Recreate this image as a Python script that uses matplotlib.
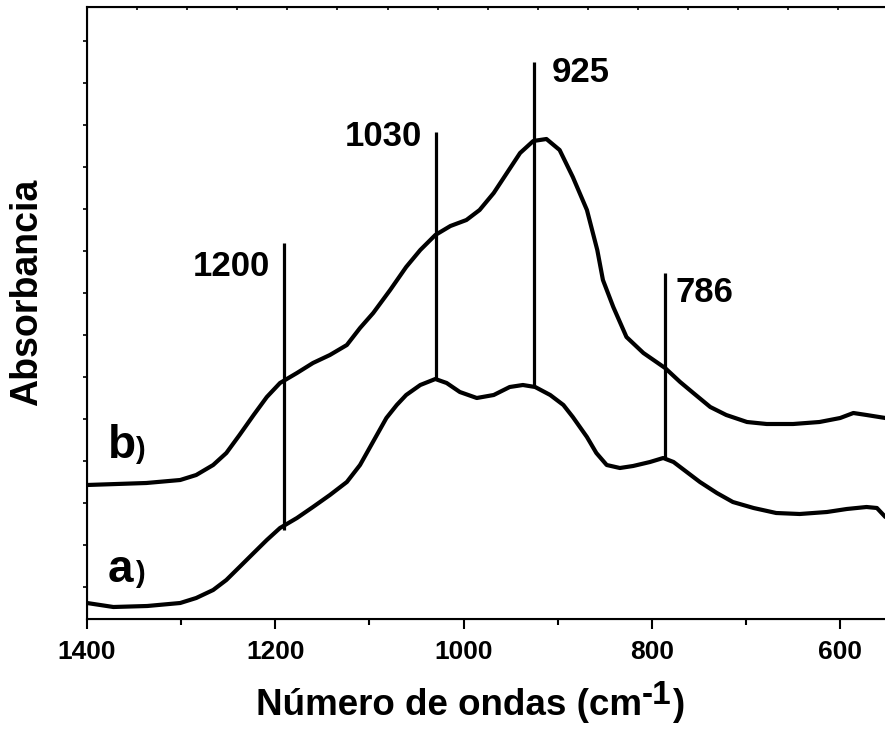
import numpy as np
import matplotlib
matplotlib.use("Agg")
import matplotlib.pyplot as plt

plt.rcParams['font.family'] = ['Liberation Sans', 'DejaVu Sans']
plt.rcParams['font.weight'] = 'bold'

# spectra (wavenumber, absorbance in arbitrary units)
wn_a = [1400, 1372, 1336, 1301, 1284, 1266, 1252, 1238, 1223, 1209, 1195, 1177,
        1160, 1142, 1124, 1110, 1082, 1071, 1061, 1046, 1030, 1018, 1004, 986,
        968, 951, 937, 924, 908, 894, 884, 869, 859, 848, 834, 820, 802, 788,
        777, 763, 749, 731, 714, 692, 668, 643, 614, 593, 572, 561, 552]
abs_a = [16, 12, 13, 16, 21, 29, 39, 52, 66, 79, 91, 101,
         112, 124, 137, 154, 201, 214, 224, 234, 240, 236, 227, 221,
         224, 232, 234, 232, 224, 214, 202, 182, 166, 154, 151, 153, 157, 161,
         157, 147, 137, 126, 117, 111, 106, 105, 107, 110, 112, 111, 102]

wn_b = [1400, 1337, 1301, 1284, 1266, 1252, 1238, 1223, 1209, 1195, 1177, 1160,
        1142, 1124, 1110, 1096, 1078, 1061, 1046, 1030, 1014, 997, 983, 968,
        954, 940, 926, 912, 898, 884, 869, 858, 852, 841, 827, 809, 786, 770,
        756, 738, 721, 699, 678, 650, 622, 600, 586, 572, 552]
abs_b = [134, 136, 139, 144, 154, 166, 184, 204, 222, 236, 246, 256,
         264, 274, 291, 306, 329, 352, 369, 384, 393, 399, 409, 426,
         446, 466, 478, 480, 469, 442, 409, 369, 339, 312, 282, 266, 251, 237,
         226, 212, 204, 197, 195, 195, 197, 201, 206, 204, 201]

# band markers: position, line bottom, line top, label
band_pos = [1191, 1029, 925, 786]
band_lo = [89, 241, 232, 161]
band_hi = [376, 487, 557, 346]
band_txt = ['1200', '1030', '925', '786']

fig = plt.figure(figsize=(8.85, 7.41), dpi=100)
ax = fig.add_axes([87/885, 122/741, 798/885, 612/741])

ax.plot(wn_a, abs_a, color='black', lw=3, solid_joinstyle='round', solid_capstyle='round')
ax.plot(wn_b, abs_b, color='black', lw=3, solid_joinstyle='round', solid_capstyle='round')
ax.vlines(band_pos, band_lo, band_hi, color='black', lw=2.3)

# labels: 1200 / 1030 sit left of their line, 925 / 786 right
ax.text(1206, 352, band_txt[0], ha='right', va='center', fontsize=25, fontweight='bold')
ax.text(1044, 482, band_txt[1], ha='right', va='center', fontsize=25, fontweight='bold')
ax.text(906, 546, band_txt[2], ha='left', va='center', fontsize=25, fontweight='bold')
ax.text(775, 326, band_txt[3], ha='left', va='center', fontsize=25, fontweight='bold')

# curve tags, letter big, bracket smaller
ax.text(1378, 161, 'b', ha='left', va='baseline', fontsize=33, fontweight='bold')
ax.text(1349, 161, ')', ha='left', va='baseline', fontsize=21, fontweight='bold')
ax.text(1378, 37, 'a', ha='left', va='baseline', fontsize=33, fontweight='bold')
ax.text(1349, 37, ')', ha='left', va='baseline', fontsize=21, fontweight='bold')

ax.set_xlim(1400, 552.4)
ax.set_ylim(0, 612)
ax.set_xticks([1400, 1200, 1000, 800, 600])
ax.set_xticks([1300, 1100, 900, 700], minor=True)
ax.set_yticks(np.arange(32, 612, 42))
ax.set_yticklabels([])
ax.tick_params(axis='x', which='major', direction='out', length=7, width=1.5,
               labelsize=19, pad=8)
ax.tick_params(axis='x', which='minor', direction='out', length=4, width=1.5)
ax.tick_params(axis='y', direction='out', length=3, width=1.2)
for lbl in ax.get_xticklabels():
    lbl.set_fontweight('bold')

for s in ['left', 'bottom', 'top']:
    ax.spines[s].set_linewidth(1.5)
ax.spines['right'].set_visible(False)

# top axis carries its own small ticks
top = ax.twiny()
top.set_xlim(0, 798)
top.set_xticks(np.arange(50, 798, 50.1))
top.set_xticklabels([])
top.tick_params(axis='x', direction='in', length=2.5, width=1.2)
top.spines['right'].set_visible(False)

fig.text(27/885, 1 - 292/741, 'Absorbancia', rotation=90, ha='center', va='center',
         fontsize=27, fontweight='bold')

# x label built from pieces so the superscript keeps a plain hyphen
r = fig.canvas.get_renderer()
base_y = 1 - 715/741
t1 = fig.text(256/885, base_y, 'Número de ondas (cm', ha='left', va='baseline',
              fontsize=26.5, fontweight='bold')
x1 = t1.get_window_extent(r).x1 / 885
t2 = fig.text(x1, 1 - 704/741, '-1', ha='left', va='baseline',
              fontsize=24, fontweight='bold')
x2 = t2.get_window_extent(r).x1 / 885
fig.text(x2, base_y, ')', ha='left', va='baseline', fontsize=26.5,
         fontweight='bold')

fig.savefig('out.png', dpi=100)
